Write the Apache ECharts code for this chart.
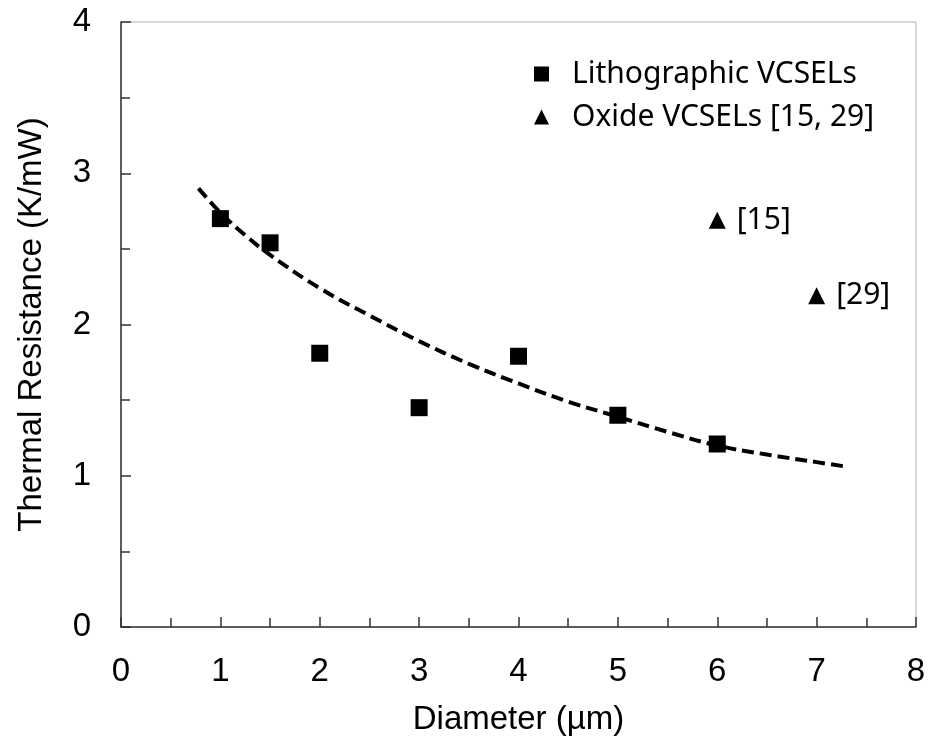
<!DOCTYPE html>
<html>
<head>
<meta charset="utf-8">
<script src="https://cdn.jsdelivr.net/npm/echarts@6/dist/echarts.min.js"></script>
<style>
html,body{margin:0;padding:0;background:#fff;}
#chart{width:929px;height:736px;}
</style>
</head>
<body>
<div id="chart"></div>
<script>
// ---- data ----
const lithoDiameter = [1, 1.5, 2, 3, 4, 5, 6];
const lithoResistance = [2.70, 2.54, 1.81, 1.45, 1.79, 1.40, 1.21];
const oxideDiameter = [6, 7];
const oxideResistance = [2.69, 2.19];
const oxideRefs = ['[15]', '[29]'];
const fitDiameter = [0.78, 1.0, 1.25, 1.5, 2.0, 2.5, 3.0, 3.5, 4.0, 4.5, 5.0, 5.5, 6.0, 6.5, 7.0, 7.3];
const fitResistance = [2.90, 2.74, 2.59, 2.46, 2.24, 2.06, 1.89, 1.74, 1.61, 1.49, 1.39, 1.29, 1.20, 1.14, 1.09, 1.06];
const seriesNames = ['Lithographic VCSELs', 'Oxide VCSELs [15, 29]'];
const xTitle = 'Diameter (\u00b5m)';
const yTitle = 'Thermal Resistance (K/mW)';

const zip = (a, b) => a.map((v, i) => [v, b[i]]);
const axisFont = 'Liberation Sans, Arial, sans-serif';
const legendFont = 'Noto Sans, sans-serif';

const chart = echarts.init(document.getElementById('chart'), null, {renderer: 'canvas'});
chart.setOption({
  animation: false,
  backgroundColor: '#fff',
  grid: {left: 121, right: 13, top: 22, bottom: 109, show: true, borderColor: '#b0b0b0', borderWidth: 1,
         containLabel: false, outerBoundsMode: 'none'},
  legend: {
    orient: 'vertical', left: 529, top: 54,
    itemWidth: 15, itemHeight: 15, itemGap: 13,
    data: [{name: seriesNames[0], icon: 'rect'}, {name: seriesNames[1], icon: 'triangle'}],
    itemStyle: {color: '#000', opacity: 1},
    textStyle: {fontFamily: legendFont, fontSize: 30, color: '#000', lineHeight: 30, padding: [0, 0, 0, 18]}
  },
  xAxis: {
    type: 'value', min: 0, max: 8, interval: 1,
    name: xTitle, nameLocation: 'middle', nameGap: 76,
    nameTextStyle: {fontFamily: axisFont, fontSize: 33, color: '#000'},
    axisLine: {onZero: false, lineStyle: {color: '#333', width: 1.5}},
    axisTick: {inside: true, length: 10, lineStyle: {color: '#333', width: 1.5}},
    minorTick: {show: true, splitNumber: 2, length: 9, lineStyle: {color: '#333', width: 1.5}},
    axisLabel: {fontFamily: axisFont, fontSize: 33, color: '#000', margin: 28},
    splitLine: {show: false}
  },
  yAxis: {
    type: 'value', min: 0, max: 4, interval: 1,
    name: yTitle, nameLocation: 'middle', nameGap: 73,
    nameTextStyle: {fontFamily: axisFont, fontSize: 33, color: '#000'},
    axisLine: {onZero: false, lineStyle: {color: '#333', width: 1.5}},
    axisTick: {inside: true, length: 10, lineStyle: {color: '#333', width: 1.5}},
    minorTick: {show: true, splitNumber: 2, length: 9, lineStyle: {color: '#333', width: 1.5}},
    axisLabel: {fontFamily: axisFont, fontSize: 33, color: '#000', margin: 30},
    splitLine: {show: false}
  },
  series: [
    {
      name: 'fit', type: 'line', data: zip(fitDiameter, fitResistance),
      smooth: 0.4, showSymbol: false, symbol: 'none',
      lineStyle: {color: '#000', width: 4, type: [12, 6]}, z: 1
    },
    {
      name: seriesNames[0], type: 'scatter', data: zip(lithoDiameter, lithoResistance),
      symbol: 'rect', symbolSize: 17, itemStyle: {color: '#000', opacity: 1}, z: 3
    },
    {
      name: seriesNames[1], type: 'scatter',
      data: oxideDiameter.map((d, i) => ({value: [d, oxideResistance[i]], label: {formatter: oxideRefs[i]}})),
      symbol: 'triangle', symbolSize: 17, itemStyle: {color: '#000', opacity: 1}, z: 3,
      label: {show: true, position: 'right', distance: 11, fontFamily: legendFont, fontSize: 30, color: '#000'}
    }
  ]
});
</script>
</body>
</html>
